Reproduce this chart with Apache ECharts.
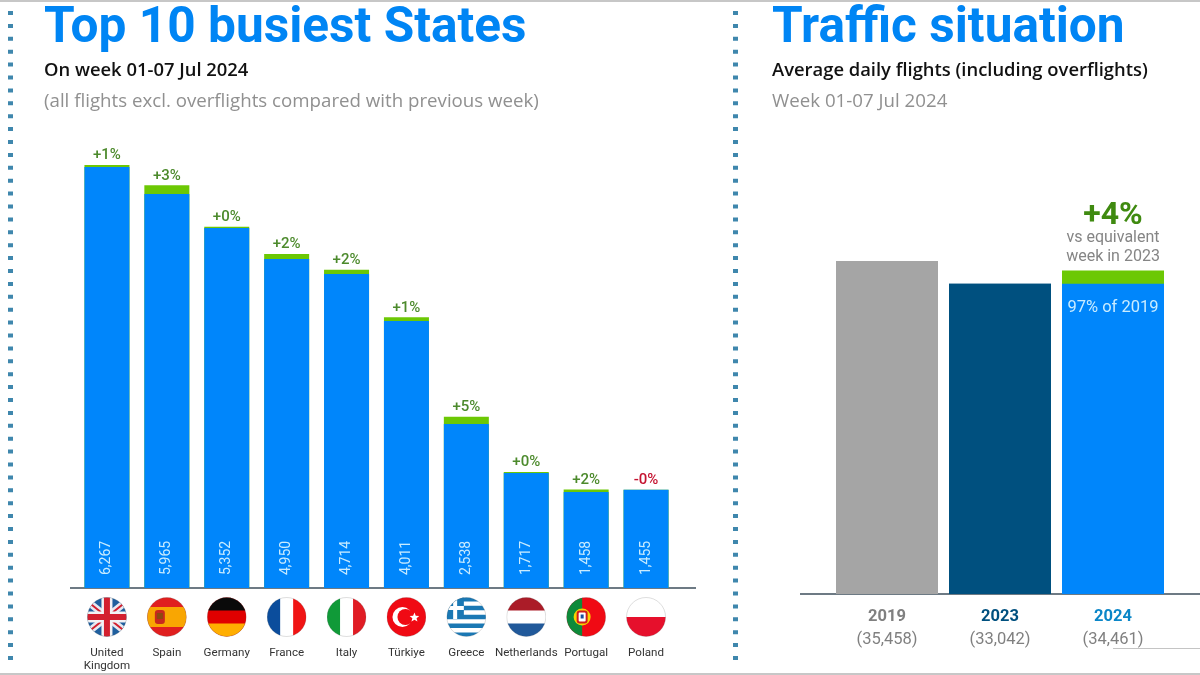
<!DOCTYPE html>
<html><head><meta charset="utf-8">
<style>html,body{margin:0;padding:0;background:#fff}#c{width:1200px;height:675px}</style>
<script src="https://cdn.jsdelivr.net/npm/echarts@6/dist/echarts.min.js"></script>
</head><body><div id="c"></div>
<script>
const stateNames = ['United\nKingdom','Spain','Germany','France','Italy','Türkiye','Greece','Netherlands','Portugal','Poland'];
const stateFlights = [6267,5965,5352,4950,4714,4011,2538,1717,1458,1455];
const statePrevious = [6237,5837,5335,4874,4652,3956,2430,1704,1422,1455];
const stateChange = ['+1%','+3%','+0%','+2%','+2%','+1%','+5%','+0%','+2%','-0%'];
const trafficYears = ['2019','2023','2024'];
const trafficFlights = [35458,33042,34461];
const trafficBase = [35458,33042,33042];

const flagArt = [
 '<rect width="40" height="40" fill="#1f5f9e"/><path d="M0 4L40 36M40 4L0 36" stroke="#e8e8f0" stroke-width="7"/><path d="M0 4L40 36M40 4L0 36" stroke="#d3202f" stroke-width="2"/><path d="M20 0V40M0 20H40" stroke="#f2f2f5" stroke-width="11"/><path d="M20 0V40M0 20H40" stroke="#d3202f" stroke-width="6"/>',
 '<rect width="40" height="40" fill="#e01f1f"/><rect y="10" width="40" height="20" fill="#f9a602"/><rect x="8" y="13" width="10" height="14" rx="3" fill="#c8281e"/><rect x="10" y="16" width="6" height="6" fill="#8c4a10"/>',
 '<rect width="40" height="40" fill="#e00000"/><rect width="40" height="13.5" fill="#0a0a0a"/><rect y="26.5" width="40" height="13.5" fill="#ffae00"/>',
 '<rect width="40" height="40" fill="#fff"/><rect width="13.5" height="40" fill="#0b4d9c"/><rect x="26.5" width="13.5" height="40" fill="#f01414"/>',
 '<rect width="40" height="40" fill="#fff"/><rect width="13.5" height="40" fill="#109a38"/><rect x="26.5" width="13.5" height="40" fill="#e01c24"/>',
 '<rect width="40" height="40" fill="#f00a14"/><circle cx="16" cy="20" r="10" fill="#fff"/><circle cx="19" cy="20" r="8" fill="#f00a14"/><path d="M28 15.5l1.3 3.3 3.5.2-2.7 2.2.9 3.4-3-1.9-3 1.9.9-3.4-2.7-2.2 3.5-.2z" fill="#fff"/>',
 '<rect width="40" height="40" fill="#fff"/><path d="M0 2.2H40M0 11H40M0 20H40M0 28.8H40M0 37.6H40" stroke="#1a78b4" stroke-width="4.4"/><rect width="17.5" height="22" fill="#1a78b4"/><path d="M8.8 0V22M0 11H17.5" stroke="#fff" stroke-width="4"/>',
 '<rect width="40" height="40" fill="#fff"/><rect width="40" height="13.5" fill="#ab1c28"/><rect y="26.5" width="40" height="13.5" fill="#21599a"/>',
 '<rect width="40" height="40" fill="#f00a14"/><rect width="16" height="40" fill="#0e8a3a"/><circle cx="16" cy="20" r="8.5" fill="#f6d500"/><rect x="11.5" y="14.5" width="9" height="11" rx="2" fill="#fff" stroke="#d01c1c" stroke-width="2"/><rect x="14.5" y="17.5" width="3" height="4" fill="#1a4f9c"/>',
 '<rect width="40" height="40" fill="#fff"/><rect y="20" width="40" height="20" fill="#e6102c"/>'
];
const flagImages = flagArt.map((art, i) =>
  'image://data:image/svg+xml;charset=utf-8,' + encodeURIComponent(
    '<svg xmlns="http://www.w3.org/2000/svg" width="80" height="80" viewBox="0 0 40 40"><defs><clipPath id="f' + i + '"><circle cx="20" cy="20" r="19.5"/></clipPath></defs><g clip-path="url(#f' + i + ')">' + art + '</g><circle cx="20" cy="20" r="19.5" fill="none" stroke="rgba(90,90,90,0.25)" stroke-width="0.8"/></svg>'));

const FONT = 'Roboto', WIDE = '"Open Sans"';
const BLUE = '#0086fb', GREEN = '#6cc804', TITLE = '#0085f4', GREY = '#909090';
const green = '#4c8a2c';

function heading(text, left, top, size, weight, color, family) {
  return { text, left, top, padding: 0, textStyle: { fontFamily: family || FONT, fontSize: size, fontWeight: weight, color, lineHeight: size * 1.2 } };
}
function rule(x1, y1, x2, y2, color, width, dash) {
  return { type: 'line', silent: true, shape: { x1, y1, x2, y2 },
    style: { stroke: color, lineWidth: width, lineDash: dash || null } };
}

const option = {
  animation: false,
  backgroundColor: '#ffffff',
  textStyle: { fontFamily: FONT },
  title: [
    heading('Top 10 busiest States', 44, 0, 49.6, 'bold', TITLE),
    heading('On week 01-07 Jul 2024', 44, 60, 18.4, 600, '#111111', WIDE),
    heading('(all flights excl. overflights compared with previous week)', 44, 90, 18.7, 400, GREY, WIDE),
    heading('Traffic situation', 772, 0, 49.6, 'bold', TITLE),
    heading('Average daily flights (including overflights)', 772, 60, 18.4, 600, '#111111', WIDE),
    heading('Week 01-07 Jul 2024', 772, 90, 18.7, 400, GREY, WIDE)
  ],
  graphic: [
    rule(0, 1, 1200, 1, '#b4b4b4', 1.5),
    rule(0, 674, 1200, 674, '#b4b4b4', 1.5),
    rule(10.5, 11, 10.5, 668, '#3f87ad', 5, [4, 8.9]),
    rule(735.5, 11, 735.5, 668, '#3f87ad', 5, [4, 8.9]),
    rule(70, 588, 696, 588, '#6d7a84', 2),
    rule(800, 594, 1200, 594, '#6d7a84', 2),
    rule(1113, 648.5, 1200, 648.5, '#c4c4c4', 1)
  ],
  grid: [
    { left: 77, width: 599, top: 149.25, height: 438.75 },
    { left: 830.5, width: 339, top: 256, height: 338 }
  ],
  xAxis: [
    { type: 'category', gridIndex: 0, data: stateNames,
      axisLine: { show: false }, axisTick: { show: false },
      axisLabel: { interval: 0, margin: 59, fontSize: 11.6, lineHeight: 13, color: '#333333', fontFamily: FONT, hideOverlap: false } },
    { type: 'category', gridIndex: 1, data: trafficYears,
      axisLine: { show: false }, axisTick: { show: false },
      axisLabel: { interval: 0, margin: 11,
        formatter: (v, i) => '{y' + i + '|' + v + '}\n{n|(' + trafficFlights[i].toLocaleString('en-US') + ')}',
        rich: {
          y0: { fontFamily: FONT, fontSize: 16.5, fontWeight: 'bold', color: '#808080', lineHeight: 23 },
          y1: { fontFamily: FONT, fontSize: 16.5, fontWeight: 'bold', color: '#00507f', lineHeight: 23 },
          y2: { fontFamily: FONT, fontSize: 16.5, fontWeight: 'bold', color: '#0a86c8', lineHeight: 23 },
          n: { fontFamily: FONT, fontSize: 16.5, color: '#808080', lineHeight: 23 }
        } } }
  ],
  yAxis: [
    { type: 'value', gridIndex: 0, min: 0, max: 6500, show: false },
    { type: 'value', gridIndex: 1, min: 0, max: 36000, show: false }
  ],
  series: [
    { type: 'bar', name: 'This week', xAxisIndex: 0, yAxisIndex: 0, barWidth: 45, barGap: '-100%',
      itemStyle: { color: GREEN },
      label: { show: true, position: 'top', distance: 2, fontFamily: FONT, fontSize: 15, fontWeight: 500, color: green,
        formatter: p => stateChange[p.dataIndex] },
      data: stateFlights.map((v, i) => stateChange[i].startsWith('-')
        ? { value: v, label: { color: '#c4122f' } } : v) },
    { type: 'bar', name: 'Previous week', xAxisIndex: 0, yAxisIndex: 0, barWidth: 45, barGap: '-100%',
      itemStyle: { color: BLUE },
      label: { show: true, position: 'insideBottom', rotate: 90, distance: 13, align: 'left', verticalAlign: 'middle',
        fontFamily: FONT, fontSize: 14, color: '#c9ecff',
        formatter: p => stateFlights[p.dataIndex].toLocaleString('en-US') },
      data: statePrevious },
    { type: 'scatter', name: 'Flags', xAxisIndex: 0, yAxisIndex: 0, clip: false, silent: true,
      symbolSize: 40, symbolOffset: [0, 29], itemStyle: { opacity: 1 },
      data: flagImages.map((img, i) => ({ value: [i, 0], symbol: img })) },
    { type: 'bar', name: 'Selected week', xAxisIndex: 1, yAxisIndex: 1, barWidth: 102, barGap: '-100%',
      data: trafficFlights.map((v, i) => i === 2 ? {
        value: v, itemStyle: { color: GREEN },
        label: { show: true, position: 'top', distance: 4,
          formatter: '{a|+4%}\n{b|vs equivalent}\n{b|week in 2023}',
          rich: {
            a: { fontFamily: FONT, fontSize: 32, fontWeight: 'bold', color: '#3f8a10', lineHeight: 24, align: 'center' },
            b: { fontFamily: FONT, fontSize: 16, color: '#858585', lineHeight: 19, align: 'center' }
          } }
      } : { value: v, itemStyle: { color: i === 0 ? '#a5a5a5' : '#00507f' } }) },
    { type: 'bar', name: 'Base', xAxisIndex: 1, yAxisIndex: 1, barWidth: 102, barGap: '-100%',
      data: trafficBase.map((v, i) => i === 2 ? {
        value: v, itemStyle: { color: BLUE },
        label: { show: true, position: 'insideTop', distance: 16, formatter: '97% of 2019',
          fontFamily: FONT, fontSize: 16.5, color: '#c9ecff' }
      } : { value: v, itemStyle: { color: i === 0 ? '#a5a5a5' : '#00507f' } }) }
  ]
};
const chart = echarts.init(document.getElementById('c'), null, { renderer: 'canvas', width: 1200, height: 675 });
chart.setOption(option);
</script></body></html>
